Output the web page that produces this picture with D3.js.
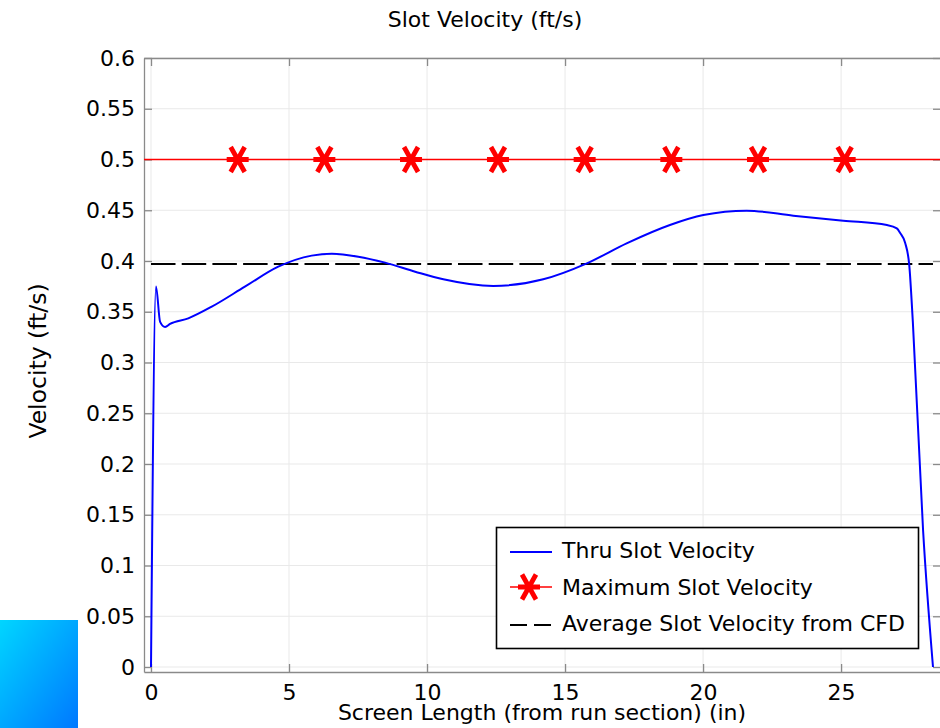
<!DOCTYPE html>
<html>
<head>
<meta charset="utf-8">
<script src="https://cdn.jsdelivr.net/npm/d3@7"></script>
<style>
  html, body { margin: 0; padding: 0; background: #fff; }
  svg { display: block; font-family: "DejaVu Sans", sans-serif; }
</style>
</head>
<body>
<svg id="chart" width="940" height="728"></svg>
<script>
// ---- data ----
const thruX = [0, 0.18, 0.33, 0.51, 0.69, 1.35, 2.2, 3.4, 4.61, 5.82, 6.55, 7.51, 8.48, 9.57, 10.59, 12.4, 14.21, 15.79, 17.23, 18.8, 20.01, 21.58, 23.27, 25.08, 26.66, 27.02, 27.14, 27.32, 27.47, 27.6, 27.97, 28.33];
const thruV = [0, 0.375, 0.340, 0.335, 0.338, 0.3435, 0.355, 0.3747, 0.3944, 0.4053, 0.4072, 0.4043, 0.3984, 0.3895, 0.382, 0.3754, 0.382, 0.3977, 0.4174, 0.4355, 0.4453, 0.4496, 0.4447, 0.4397, 0.4355, 0.4322, 0.4276, 0.418, 0.396, 0.34, 0.135, 0];
const maxX = [3.14, 6.28, 9.42, 12.57, 15.71, 18.85, 21.99, 25.13];
const maxV = 0.5;
const avgV = 0.397;
const xTicks = [0, 5, 10, 15, 20, 25];
const yTicks = [0, 0.05, 0.1, 0.15, 0.2, 0.25, 0.3, 0.35, 0.4, 0.45, 0.5, 0.55, 0.6];
const yTickLabels = ["0", "0.05", "0.1", "0.15", "0.2", "0.25", "0.3", "0.35", "0.4", "0.45", "0.5", "0.55", "0.6"];
const legendLabels = ["Thru Slot Velocity", "Maximum Slot Velocity", "Average Slot Velocity from CFD"];
const titleText = "Slot Velocity (ft/s)";
const xLabelText = "Screen Length (from run section) (in)";
const yLabelText = "Velocity (ft/s)";

// ---- layout ----
const L = 144, R = 941, T = 58, B = 672;
const FS = 22;
const svg = d3.select("#chart");

const x = d3.scaleLinear().domain([-0.254, 28.62]).range([L, R]);
const y = d3.scaleLinear().domain([-0.0049, 0.6]).range([B, T]);

// gradient square bottom-left
const defs = svg.append("defs");
const grad = defs.append("linearGradient").attr("id", "sq").attr("x1", 0).attr("y1", 0).attr("x2", 1).attr("y2", 1);
grad.append("stop").attr("offset", "0%").attr("stop-color", "#00d6ff");
grad.append("stop").attr("offset", "100%").attr("stop-color", "#0078ff");
svg.append("rect").attr("x", 0).attr("y", 620).attr("width", 78).attr("height", 108).attr("fill", "url(#sq)");

defs.append("clipPath").attr("id", "clip").append("rect")
  .attr("x", L).attr("y", T).attr("width", R - L).attr("height", B - T);

// grid
const grid = svg.append("g");
grid.selectAll(".gx").data(xTicks).join("line")
  .attr("x1", d => x(d)).attr("x2", d => x(d)).attr("y1", T).attr("y2", B)
  .attr("stroke", "#e9e9e9").attr("stroke-width", 1);
grid.selectAll(".gy").data(yTicks).join("line")
  .attr("x1", L).attr("x2", R).attr("y1", d => y(d)).attr("y2", d => y(d))
  .attr("stroke", "#e9e9e9").attr("stroke-width", 1);

// axes (ticks inward)
const axisColor = "#8a8a8a";
function styleAxis(g) {
  g.select(".domain").attr("stroke", axisColor).attr("stroke-width", 1.3);
  g.selectAll(".tick line").attr("stroke", axisColor).attr("stroke-width", 1.3);
  g.selectAll("text").attr("font-size", FS).attr("fill", "#000").attr("font-family", "DejaVu Sans, sans-serif");
}
const xAxis = d3.axisBottom(x).tickValues(xTicks).tickSizeInner(-8).tickSizeOuter(0).tickPadding(12).tickFormat(d3.format("d"));
svg.append("g").attr("transform", `translate(0,${B})`).call(xAxis).call(styleAxis);
const xTop = d3.axisTop(x).tickValues(xTicks).tickSizeInner(-8).tickSizeOuter(0).tickFormat("");
svg.append("g").attr("transform", `translate(0,${T})`).call(xTop).call(styleAxis);
const yAxis = d3.axisLeft(y).tickValues(yTicks).tickSizeInner(-8).tickSizeOuter(0).tickPadding(9)
  .tickFormat((d, i) => yTickLabels[i]);
svg.append("g").attr("transform", `translate(${L},0)`).call(yAxis).call(styleAxis);
const yRight = d3.axisRight(y).tickValues(yTicks).tickSizeInner(-8).tickSizeOuter(0).tickFormat("");
svg.append("g").attr("transform", `translate(${R},0)`).call(yRight).call(styleAxis);

// plot
const plot = svg.append("g").attr("clip-path", "url(#clip)");

// red max line
plot.append("line")
  .attr("x1", x.range()[0]).attr("x2", x.range()[1])
  .attr("y1", y(maxV)).attr("y2", y(maxV))
  .attr("stroke", "#ff0000").attr("stroke-width", 1.6);

// average dashed
plot.append("line")
  .attr("x1", x(thruX[0])).attr("x2", x(thruX[thruX.length - 1]))
  .attr("y1", y(avgV)).attr("y2", y(avgV))
  .attr("stroke", "#000").attr("stroke-width", 2).attr("stroke-dasharray", "24.5,6.2");

// thru line
const line = d3.line().x((d, i) => x(thruX[i])).y((d, i) => y(thruV[i])).curve(d3.curveMonotoneX);
plot.append("path").datum(thruV).attr("d", line)
  .attr("fill", "none").attr("stroke", "#0000ff").attr("stroke-width", 2);

// star markers
const starPath = "M-11,0L11,0M-7,-12.5L7,12.5M-7,12.5L7,-12.5";
plot.selectAll(".star").data(maxX).join("path")
  .attr("transform", d => `translate(${x(d)},${y(maxV)})`)
  .attr("d", starPath).attr("stroke", "#ff0000").attr("stroke-width", 4.8).attr("fill", "none");

// titles
svg.append("text").attr("x", 485).attr("y", 26.5).attr("text-anchor", "middle")
  .attr("font-size", FS).text(titleText);
svg.append("text").attr("x", 542).attr("y", 720).attr("text-anchor", "middle")
  .attr("font-size", FS).text(xLabelText);
svg.append("text").attr("transform", "translate(45.5,361) rotate(-90)").attr("text-anchor", "middle")
  .attr("font-size", 23.5).text(yLabelText);

// legend
const lg = svg.append("g");
lg.append("rect").attr("x", 496.5).attr("y", 527.5).attr("width", 422).attr("height", 121)
  .attr("fill", "#fff").attr("stroke", "#000").attr("stroke-width", 1.6);
const rowsY = [552, 587, 625];
const baseY = [558.3, 595, 630.7];
lg.append("line").attr("x1", 510).attr("x2", 552).attr("y1", rowsY[0]).attr("y2", rowsY[0])
  .attr("stroke", "#0000ff").attr("stroke-width", 2);
lg.append("line").attr("x1", 510).attr("x2", 552).attr("y1", rowsY[1]).attr("y2", rowsY[1])
  .attr("stroke", "#ff0000").attr("stroke-width", 1.6);
lg.append("path").attr("transform", `translate(529,${rowsY[1]})`).attr("d", starPath)
  .attr("stroke", "#ff0000").attr("stroke-width", 4.8).attr("fill", "none");
lg.append("line").attr("x1", 510).attr("x2", 552).attr("y1", rowsY[2]).attr("y2", rowsY[2])
  .attr("stroke", "#000").attr("stroke-width", 2).attr("stroke-dasharray", "17,7");
lg.selectAll(".lt").data(legendLabels).join("text")
  .attr("x", 562).attr("y", (d, i) => baseY[i]).attr("font-size", FS).text(d => d);
</script>
</body>
</html>
